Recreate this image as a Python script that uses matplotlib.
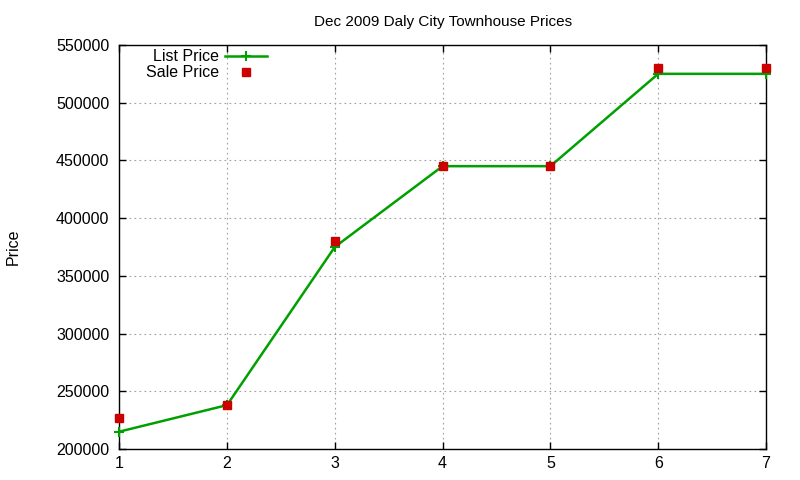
import matplotlib
matplotlib.use("Agg")
import matplotlib.pyplot as plt

# data
units = [1, 2, 3, 4, 5, 6, 7]
list_price = [215000, 238000, 375000, 445000, 445000, 525000, 525000]
sale_price = [227000, 238000, 380000, 445000, 445000, 530000, 530000]

green = "#00a000"
red = "#cc0000"

plt.rcParams["font.family"] = ["Liberation Sans", "DejaVu Sans"]

fig = plt.figure(figsize=(8, 4.8), dpi=100)
ax = fig.add_axes([0.149, 0.0646, 0.8085, 0.8417])

ax.plot(units, list_price, color=green, lw=1.8, marker="+", markersize=7,
        markeredgewidth=1.5, clip_on=False, zorder=3)
ax.plot(units, sale_price, ls="none", marker="s", color=red, markersize=6,
        clip_on=False, zorder=4)

ax.set_xlim(1, 7)
ax.set_ylim(200000, 550000)
ax.set_xticks(units)
ax.set_yticks(range(200000, 550001, 50000))
ax.tick_params(direction="in", top=True, right=True, labelsize=11.5, length=5,
               width=1)
ax.tick_params(axis="y", pad=7)
ax.tick_params(axis="x", pad=5)
ax.grid(True, color="#a0a0a0", ls=(0, (1.5, 3)), lw=0.8)
for s in ax.spines.values():
    s.set_linewidth(1)

ax.set_title("Dec 2009 Daly City Townhouse Prices", fontsize=11, pad=14)
fig.text(0.016, 0.485, "Price", rotation=90, fontsize=11.5, va="center", ha="center")

# gnuplot style key, top left
ax.text(0.155, 0.972, "List Price", transform=ax.transAxes, ha="right", va="center", fontsize=11.5)
ax.text(0.155, 0.932, "Sale Price", transform=ax.transAxes, ha="right", va="center", fontsize=11.5)
ax.plot([0.164, 0.229], [0.972, 0.972], transform=ax.transAxes, color=green, lw=1.8)
ax.plot([0.196], [0.972], transform=ax.transAxes, color=green, marker="+",
        markersize=7, markeredgewidth=1.5)
ax.plot([0.196], [0.932], transform=ax.transAxes, color=red, marker="s", markersize=6, ls="none")

fig.savefig("out.png", dpi=100)
